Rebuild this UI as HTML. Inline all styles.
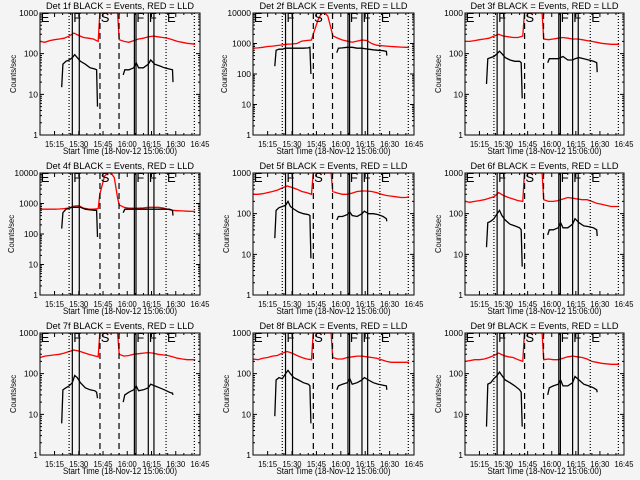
<!DOCTYPE html>
<html><head><meta charset="utf-8">
<style>
html,body{margin:0;padding:0;background:#f4f4f4;}
svg{display:block;font-family:"Liberation Sans",sans-serif;}
</style></head>
<body>
<svg id="chart" width="640" height="480" viewBox="0 0 640 480" xmlns="http://www.w3.org/2000/svg">
<rect x="0" y="0" width="640" height="480" fill="#f4f4f4"/>
</svg>
<script>
// minutes since 15:06:00
const redTimes = [0,3,6,9,12,15,18,21,24,27,30,33,36,37,40,42,44,46,48,49,52,55,58,61,64,67,70,73,76,79,82,85,88,91,94,96];
const blackTimes = [13.4,14.2,16,18,20,21.5,23,25,28,31,34,35,35.6,null,51.5,52.5,55,58,59.5,61,64,67,68.5,71,74,77,80,82,82.3];
const detNames = ["Det 1f","Det 2f","Det 3f","Det 4f","Det 5f","Det 6f","Det 7f","Det 8f","Det 9f"];
const yMaxes = [1000,10000,1000,10000,1000,1000,1000,1000,1000];
const red1 = [200,190,210,220,230,240,270,320,280,250,240,230,200,3000,3000,3000,3000,3000,3000,220,200,190,210,230,240,260,270,260,250,240,220,200,190,180,175,170];
const red2 = [700,720,750,800,820,860,900,950,960,1000,1200,1250,1300,2000,6000,9500,10000,8000,3000,1800,1500,1300,1200,1100,1200,1300,1250,1000,880,850,820,800,780,760,750,740];
const red3 = [200,200,210,220,230,240,270,300,270,260,250,250,270,3000,3000,3000,3000,3000,3000,230,220,230,240,250,240,230,230,220,210,200,190,180,175,170,170,170];
const red4 = [650,650,650,650,660,680,720,820,850,700,660,650,680,2000,8000,10000,10000,7000,1500,900,750,700,700,700,720,750,750,750,720,650,600,580,570,560,550,550];
const red5 = [300,300,310,330,350,380,430,480,440,400,350,330,300,3000,3000,3000,3000,3000,3000,350,320,300,300,320,350,360,360,350,330,300,280,270,260,250,250,260];
const red6 = [200,190,200,210,220,240,260,330,280,250,230,210,200,3000,3000,3000,3000,3000,3000,220,200,200,210,230,250,240,230,220,220,200,180,170,160,150,150,150];
const red7 = [250,270,280,290,300,320,350,380,360,330,300,280,260,3000,3000,3000,3000,3000,3000,300,270,280,300,310,320,330,320,300,290,280,260,240,230,220,220,220];
const red8 = [230,220,240,250,270,280,320,350,320,280,250,230,220,3000,3000,3000,3000,3000,3000,250,230,230,250,260,270,270,260,250,240,220,200,190,190,190,190,190];
const red9 = [200,210,220,220,230,250,280,320,280,260,250,220,200,3000,3000,3000,3000,3000,3000,220,230,220,220,240,260,270,260,250,230,200,190,180,175,170,170,170];
const black1 = [15,55,65,70,80,95,80,65,55,45,42,40,5,null,30,40,40,45,60,45,45,55,70,55,50,45,42,40,20];
const black2 = [180,600,650,650,700,700,700,700,700,700,720,750,100,null,500,700,720,750,750,750,700,700,680,650,620,600,580,550,400];
const black3 = [18,75,80,85,100,115,100,80,70,65,65,60,8,null,60,75,75,75,80,85,70,70,75,80,75,70,65,60,35];
const black4 = [150,500,650,700,750,750,750,750,650,620,600,600,80,null,500,650,650,650,650,650,650,650,650,650,650,650,650,600,400];
const black5 = [25,120,140,150,160,200,150,130,110,100,95,90,8,null,70,85,85,95,110,90,85,100,115,100,100,95,85,75,65];
const black6 = [15,60,65,75,100,120,90,70,55,50,45,40,5,null,30,40,40,45,60,45,45,55,75,60,50,48,45,40,28];
const black7 = [6,40,45,50,60,90,80,60,45,40,38,35,25,null,20,30,35,40,50,38,40,45,55,50,45,40,35,33,30];
const black8 = [9,70,80,75,100,120,100,80,70,60,55,50,6,null,40,50,55,60,75,55,60,70,80,70,60,55,52,50,40];
const black9 = [5,55,60,75,90,110,90,70,60,50,40,35,5,null,30,45,50,55,70,50,50,60,85,70,55,50,45,40,35];
const redSeries = [red1,red2,red3,red4,red5,red6,red7,red8,red9];
const blackSeries = [black1,black2,black3,black4,black5,black6,black7,black8,black9];
const tickMinutes = [9,24,39,54,69,84,99];
const tickLabels = ["15:15","15:30","15:45","16:00","16:15","16:30","16:45"];
const dottedLines = [18,78,95.5];
const solidLines = [20,24.3,58.4,59.4,67,70.5];
const dashedLines = [37.1,48.9];
const markerLetters = ["E","F","S","F","F","E"];
const markerTimes = [0.5,20.6,37.6,59.6,67.4,78.6];

const NS = "http://www.w3.org/2000/svg";
const svg = document.getElementById("chart");
const lefts = [40,253,465], rights = [200,414,624];
function mk(tag, attrs, parent){const e=document.createElementNS(NS,tag);for(const k in attrs)e.setAttribute(k,attrs[k]);(parent||svg).appendChild(e);return e;}

for (let p=0;p<9;p++){
  const col=p%3,row=Math.floor(p/3);
  const L=lefts[col],R=rights[col],T=13+160*row,B=135+160*row;
  const ymax=yMaxes[p];
  const dec=Math.log10(ymax);
  const xS=m=>L+(m/99)*(R-L);
  const yS=v=>{const c=Math.max(1,Math.min(ymax,v));return B-(Math.log10(c)/dec)*(B-T);};
  const g=mk("g",{});
  
  
  const title=mk("text",{x:(L+R)/2-74,y:T-4,"font-size":"9.5",fill:"#000",textLength:"148",lengthAdjust:"spacingAndGlyphs"},g);
  title.textContent=detNames[p]+" BLACK = Events, RED = LLD";
  
  
  for(let d=0;d<=dec;d++){
    const v=Math.pow(10,d),y=yS(v);
    const tl=mk("path",{d:`M${L},${y}h4M${R},${y}h-4`,stroke:"#000","stroke-width":"1"},g);
    
    
    const lab=mk("text",{x:L-2,y:y+3,"font-size":"8.5","text-anchor":"end",fill:"#000"},g);
    lab.textContent=String(v);
    
    
    if(d<dec){for(let k=2;k<10;k++){const ym=yS(v*k);mk("path",{d:`M${L},${ym}h2M${R},${ym}h-2`,stroke:"#000","stroke-width":"1"},g);}}
  }
  for(let i=0;i<tickMinutes.length;i++){
    const x=xS(tickMinutes[i]);
    const tk=mk("path",{d:`M${x},${B}v-4M${x},${T}v4`,stroke:"#000","stroke-width":"1"},g);
    
    
    const lab=mk("text",{x:x-9.5,y:B+12,"font-size":"8.5",fill:"#000",textLength:"19",lengthAdjust:"spacingAndGlyphs"},g);
    lab.textContent=tickLabels[i];
    
    
  }
  for(let m=9+5;m<99;m+=5){ if((m-9)%15){const x=xS(m);mk("path",{d:`M${x},${B}v-2M${x},${T}v2`,stroke:"#000"},g);} }
  const xt=mk("text",{x:(L+R)/2-57,y:B+19,"font-size":"9",fill:"#000",textLength:"114",lengthAdjust:"spacingAndGlyphs"},g);
  xt.textContent="Start Time (18-Nov-12 15:06:00)";
  
  
  const yt=mk("text",{x:-19,y:0,"font-size":"8.5",fill:"#000",textLength:"38",lengthAdjust:"spacingAndGlyphs",transform:`translate(${L-(dec>3?26:24)},${(T+B)/2}) rotate(-90)`},g);
  yt.textContent="Counts/sec";
  
  
  const drawSeries=(times,vals,color,name)=>{
    let d="",pen=false;
    for(let i=0;i<times.length;i++){
      if(times[i]===null||vals[i]===null){pen=false;continue;}
      d+=(pen?"L":"M")+xS(times[i]).toFixed(1)+","+yS(vals[i]).toFixed(1);pen=true;
    }
    const pl=mk("path",{d:d,fill:"none",stroke:color,"stroke-width":"1.3"},g);
    
    
  };
  drawSeries(redTimes,redSeries[p],"#ff0000","lld-series");
  drawSeries(blackTimes,blackSeries[p],"#000000","events-series");
  const vline=(m,dash,name)=>{const x=xS(m);const l=mk("line",{x1:x,x2:x,y1:T,y2:B,stroke:"#000","stroke-width":"1.2"},g);if(dash)l.setAttribute("stroke-dasharray",dash);
    
    };
  dottedLines.forEach(m=>vline(m,"1,2","dotted-marker"));
  solidLines.forEach(m=>vline(m,null,"solid-marker"));
  dashedLines.forEach(m=>vline(m,"6,4","dashed-marker"));
  for(let i=0;i<markerLetters.length;i++){
    const t=mk("text",{x:xS(markerTimes[i]),y:T+9,"font-size":"13",fill:"#000"},g);
    t.textContent=markerLetters[i];
    
    
  }
  const box=mk("rect",{x:L,y:T,width:R-L,height:B-T,fill:"none",stroke:"#000","stroke-width":"1"},g);
  
  
}
</script>
</body></html>
